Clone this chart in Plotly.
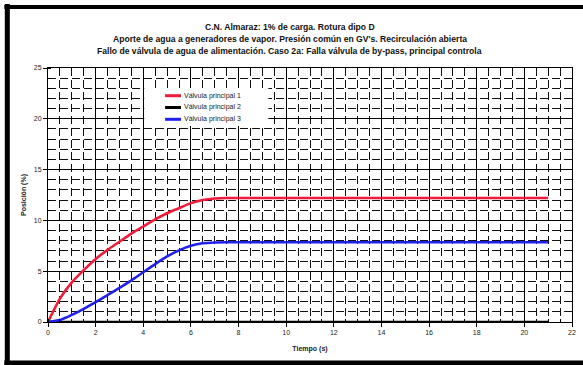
import plotly.graph_objects as go

# ---- data ----
tiempo = [0, 0.5, 1, 1.5, 2, 2.5, 3, 3.5, 4, 4.5, 5, 5.5, 6, 6.5, 7, 7.5, 8, 9, 10, 11, 12, 13, 14, 15, 16, 17, 18, 19, 20, 21]
valvula_1 = [0, 2.3, 3.9, 5.1, 6.2, 7.1, 7.9, 8.7, 9.4, 10.1, 10.7, 11.2, 11.7, 12.0, 12.15, 12.2, 12.2, 12.2, 12.2, 12.2, 12.2, 12.2, 12.2, 12.2, 12.2, 12.2, 12.2, 12.2, 12.2, 12.2]
valvula_2 = [0] * len(tiempo)
valvula_3 = [0, 0.2, 0.7, 1.3, 1.95, 2.65, 3.35, 4.1, 4.9, 5.7, 6.45, 7.05, 7.5, 7.75, 7.83, 7.85, 7.85, 7.85, 7.85, 7.85, 7.85, 7.85, 7.85, 7.85, 7.85, 7.85, 7.85, 7.85, 7.85, 7.85]
series_names = ["Válvula principal 1", "Válvula principal 2", "Válvula principal 3"]
series_colors = ["#f01a3a", "#000000", "#2020ee"]

title_lines = [
    "C.N. Almaraz: 1% de carga. Rotura dipo D",
    "Aporte de agua a generadores de vapor. Presión común en GV's. Recirculación abierta",
    "Fallo de válvula de agua de alimentación. Caso 2a: Falla válvula de by-pass, principal controla",
]

# ---- layout geometry (pixels) ----
W, H = 583, 365
L, R, T, B = 48, 576, 68, 322

def px(xp):
    return (xp - L) / (R - L)

def py(yp):
    return (B - yp) / (B - T)

fig = go.Figure()
for name, vals, col in zip(series_names, [valvula_1, valvula_2, valvula_3], series_colors):
    fig.add_trace(go.Scatter(x=tiempo, y=vals, name=name, mode="lines", showlegend=False,
                             line=dict(color=col, width=2.6, shape="spline", smoothing=0.6)))

font_fam = "Liberation Sans, Arial, sans-serif"

fig.update_layout(
    width=W, height=H,
    margin=dict(l=L, r=W - R, t=T, b=H - B, pad=0),
    paper_bgcolor="white", plot_bgcolor="white",
    font=dict(family=font_fam, size=7, color="#222"),
    showlegend=False,
    xaxis=dict(range=[0, 22], dtick=2, tick0=0, showline=True, linecolor="black", linewidth=1,
               mirror=True, ticks="outside", ticklen=4, tickcolor="black",
               showgrid=True, gridcolor="black", gridwidth=1, zeroline=False,
               tickfont=dict(size=7, color="#222"),
               title=dict(text="<b>Tiempo (s)</b>", font=dict(size=7, color="#222"), standoff=10),
               minor=dict(dtick=0.5, showgrid=True, gridcolor="#111", gridwidth=1,
                          griddash="8px,4px", ticks="inside", ticklen=3, tickcolor="black")),
    yaxis=dict(range=[0, 25], dtick=5, tick0=0, showline=True, linecolor="black", linewidth=1,
               mirror=True, ticks="outside", ticklen=4, tickcolor="black",
               showgrid=True, gridcolor="black", gridwidth=1, zeroline=False,
               tickfont=dict(size=7, color="#222"),
               title=dict(text="<b>Posición (%)</b>", font=dict(size=7, color="#222"), standoff=6),
               minor=dict(dtick=1, showgrid=True, gridcolor="#111", gridwidth=1,
                          griddash="8px,4px", ticks="inside", ticklen=3, tickcolor="black")),
)

# title lines
for i, line in enumerate(title_lines):
    fig.add_annotation(text="<b>" + line + "</b>", xref="paper", yref="paper",
                       x=px(W / 2), y=py(26.5 + 12.2 * i), xanchor="center", yanchor="middle",
                       showarrow=False, font=dict(size=8.6, color="#111", family=font_fam))

# legend (drawn box, samples and labels)
fig.add_shape(type="rect", xref="paper", yref="paper", x0=px(145), x1=px(270), y0=py(88), y1=py(126),
              fillcolor="white", line=dict(width=0), layer="above")
for i, (name, col) in enumerate(zip(series_names, series_colors)):
    yy = py(95.7 + 11.8 * i)
    fig.add_shape(type="line", xref="paper", yref="paper", x0=px(166), x1=px(182), y0=yy, y1=yy,
                  line=dict(color=col, width=3), layer="above")
    fig.add_annotation(text=name, xref="paper", yref="paper", x=px(183), y=yy,
                       xanchor="left", yanchor="middle", showarrow=False,
                       font=dict(size=7, color="#222", family=font_fam))

# outer frame
fig.add_shape(type="line", xref="paper", yref="paper", x0=px(7), x1=px(7), y0=py(4), y1=py(366),
              line=dict(color="black", width=5))
fig.add_shape(type="line", xref="paper", yref="paper", x0=px(4), x1=px(590), y0=py(7), y1=py(7),
              line=dict(color="black", width=4))
fig.add_shape(type="line", xref="paper", yref="paper", x0=px(4), x1=px(590), y0=py(363), y1=py(363),
              line=dict(color="black", width=5))

fig.write_html("out.html")
